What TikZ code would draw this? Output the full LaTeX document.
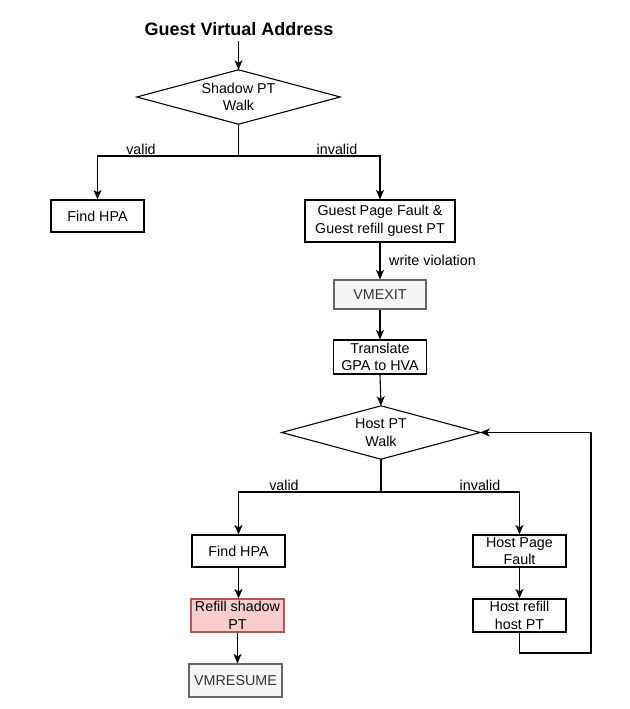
\documentclass[tikz,border=0pt]{standalone}
\usepackage{fontspec}
\setmainfont{Liberation Sans}
\usetikzlibrary{arrows.meta}
\definecolor{redfill}{HTML}{F8CECC}
\definecolor{reddraw}{HTML}{B85450}
\definecolor{grayfill}{HTML}{F5F5F5}
\definecolor{graydraw}{HTML}{666666}
\definecolor{graytext}{HTML}{333333}
\begin{document}
\begin{tikzpicture}[x=1pt,y=-1pt,
  every node/.style={font=\fontsize{14.3}{17.5}\selectfont, inner sep=0pt, align=center},
  box/.style={draw, line width=1.1pt, minimum width=93pt, minimum height=32pt},
  greybox/.style={box, fill=grayfill, draw=graydraw, text=graytext},
  redbox/.style={box, fill=redfill, draw=reddraw},
  ln/.style={line width=1.1pt},
  arr/.style={line width=1.1pt, -{Stealth[length=9.5pt,width=8pt,inset=2.5pt]}},
  lbl/.style={anchor=south, inner sep=1pt}]
\useasboundingbox (0,0) rectangle (629,709);

% title
\node[font=\bfseries\fontsize{18}{21}\selectfont] (title) at (239,29) {Guest Virtual Address};

% shadow PT walk diamond
\node[minimum width=203pt, minimum height=54pt] (d1) at (238.5,97) {Shadow PT\\Walk};
\draw[ln] (d1.west) -- (d1.north) -- (d1.east) -- (d1.south) -- cycle;

\node[box] (f1) at (97.5,216) {Find HPA};
\node[box, minimum width=150pt, minimum height=42pt] (gpf) at (380,221) {Guest Page Fault \&\\Guest refill guest PT};
\node[greybox, minimum width=92pt, minimum height=29pt] (vmexit) at (380,294.5) {VMEXIT};
\node[box, minimum height=34pt] (tr) at (380,357) {Translate\\GPA to HVA};

% host PT walk diamond
\node[minimum width=198pt, minimum height=53pt] (d2) at (381,432.5) {Host PT\\Walk};
\draw[ln] (d2.west) -- (d2.north) -- (d2.east) -- (d2.south) -- cycle;

\node[box] (f2) at (238.5,551) {Find HPA};
\node[redbox, minimum height=33pt] (rs) at (237.5,615.5) {Refill shadow\\PT};
\node[greybox, minimum height=33pt] (vr) at (235.5,680.5) {VMRESUME};
\node[box] (hpf) at (519.5,551) {Host Page\\Fault};
\node[box, minimum height=33pt] (hr) at (519.5,615.5) {Host refill\\host PT};

% labels
\node[lbl] (l1) at (141,156) {valid};
\node[lbl] (l2) at (337,156) {invalid};
\node[anchor=west] (l3) at (389,260) {write violation};
\node[lbl] (l4) at (284,492) {valid};
\node[lbl] (l5) at (480,492) {invalid};

% junctions
\coordinate (j1) at (238.5,156);
\coordinate (j2) at (381,492);
\coordinate (c1) at (591,653);

% connectors
\draw[arr, shorten <=5pt] (title.south -| d1.north) -- (d1.north);
\draw[ln] (d1.south) -- (j1);
\draw[arr] (j1) -| (f1.north);
\draw[arr] (j1) -| (gpf.north);
\draw[arr] (gpf.south) -- (vmexit.north);
\draw[arr] (vmexit.south) -- (tr.north);
\draw[arr] (tr.south) -- (d2.north);
\draw[ln] (d2.south) -- (j2);
\draw[arr] (j2) -| (f2.north);
\draw[arr] (j2) -| (hpf.north);
\draw[arr] (f2.south) -- (f2.south |- rs.north);
\draw[arr] (rs.south) -- (rs.south |- vr.north);
\draw[arr] (hpf.south) -- (hr.north);
\draw[arr] (hr.south) |- (c1) |- (d2.east);
\end{tikzpicture}
\end{document}
